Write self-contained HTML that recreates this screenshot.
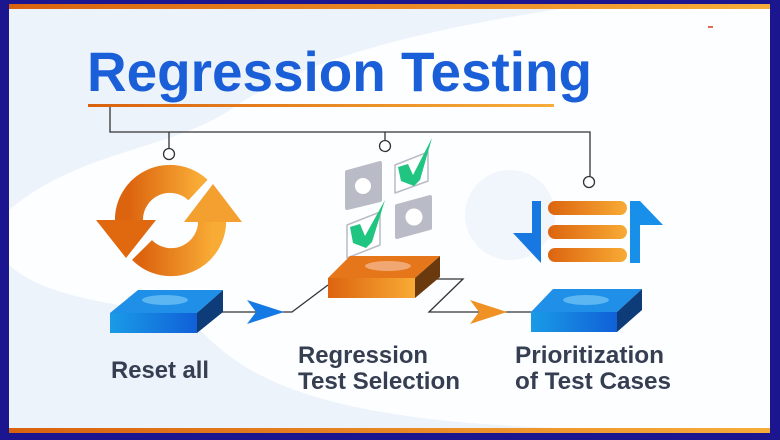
<!DOCTYPE html>
<html><head><meta charset="utf-8"><style>html,body{margin:0;padding:0;width:780px;height:440px;overflow:hidden;background:#1c1590}</style></head><body>
<svg width="780" height="440" viewBox="0 0 780 440" xmlns="http://www.w3.org/2000/svg" font-family="Liberation Sans, sans-serif">
<defs>
<linearGradient id="og" x1="0" x2="1"><stop offset="0" stop-color="#dc640f"/><stop offset="1" stop-color="#f8ab35"/></linearGradient>
<linearGradient id="bg" x1="0" x2="1"><stop offset="0" stop-color="#1a9be6"/><stop offset="1" stop-color="#1060d8"/></linearGradient>
<linearGradient id="stripe" x1="0" x2="1"><stop offset="0" stop-color="#d9620f"/><stop offset="1" stop-color="#f7ad3a"/></linearGradient>
</defs>
<rect x="0" y="0" width="780" height="440" fill="#1c1590"/>
<rect x="9" y="4" width="761" height="429" fill="#fdfeff"/>
<rect x="9" y="4" width="761" height="5" fill="url(#stripe)"/>
<rect x="9" y="428" width="761" height="5" fill="url(#stripe)"/>
<path d="M9,9 L560,9 C420,30 300,60 230,110 C170,150 80,150 9,210 Z" fill="#edf3fb"/>
<path d="M9,265 C60,310 160,300 200,330 C240,370 300,420 560,428 L9,428 Z" fill="#edf3fb"/>
<circle cx="510" cy="215" r="45" fill="#f1f5fc"/>
<rect x="708" y="26" width="5" height="2" fill="#e46a50"/>
<text x="87" y="91" font-size="56" font-weight="bold" fill="#1b5fd8" textLength="505" lengthAdjust="spacingAndGlyphs">Regression Testing</text>
<rect x="88" y="104" width="466" height="3" fill="url(#stripe)"/>
<g fill="none" stroke="#333" stroke-width="1.3">
<path d="M110,107 V132 H590 V176"/>
<path d="M169,132 V148"/><path d="M385,132 V140"/>
<circle cx="169" cy="154" r="5.5" fill="#fff"/>
<circle cx="385" cy="146" r="5.5" fill="#fff"/>
<circle cx="589" cy="182" r="5.5" fill="#fff"/>
<path d="M195,312 H292 L328,285"/>
<path d="M430,279 H463 L429,312 H532"/>
</g>
<g fill="none" stroke="url(#og)" stroke-width="28">
<path d="M198,190 A41,41 0 0 0 129,222"/>
<path d="M142,250 A41,41 0 0 0 212,218"/>
</g>
<polygon points="96,220 156,220 126,258" fill="#e0690f"/>
<polygon points="184,222 242,222 213,184" fill="#f3a030"/>
<polygon points="347,172 380,163 380,200 347,208" fill="#b9bcc6" stroke="#b9bcc6" stroke-width="4" stroke-linejoin="round"/>
<circle cx="363" cy="186" r="8" fill="#fff"/>
<polygon points="397,206 430,197 430,228 397,237" fill="#b9bcc6" stroke="#b9bcc6" stroke-width="4" stroke-linejoin="round"/>
<circle cx="414" cy="217" r="8.5" fill="#fff"/>
<polygon points="395,165 428,152 428,181 395,193" fill="#fff" stroke="#b9bcc6" stroke-width="1.5" stroke-linejoin="round"/>
<polygon points="347,225 380,212 380,245 347,258" fill="#fff" stroke="#b9bcc6" stroke-width="1.5" stroke-linejoin="round"/>
<polygon points="398,167 408,164 413,175 432,138 420,180 414,186 401,181" fill="#1fc580"/>
<polygon points="350,227 360,224 365,236 385,200 372,242 366,248 353,243" fill="#1fc580"/>
<rect x="548" y="201" width="79" height="14" rx="7" fill="url(#og)"/>
<rect x="548" y="225" width="79" height="14" rx="7" fill="url(#og)"/>
<rect x="548" y="248" width="79" height="14" rx="7" fill="url(#og)"/>
<polygon points="532,201 541,201 541,263 513,233 532,233" fill="#1678e0"/>
<polygon points="630,263 640,263 640,225 663,225 640,201 630,201" fill="#1890ea"/>
<polygon points="110,313 138,290 223,290 197,313" fill="#1f8fe8"/>
<ellipse cx="165" cy="300" rx="23" ry="5" fill="#5bb6f2"/>
<rect x="110" y="313" width="87" height="20" fill="url(#bg)"/>
<polygon points="197,313 223,290 223,312 197,333" fill="#0d3c78"/>
<polygon points="328,278 350,256 440,256 415,278" fill="#e5761a"/>
<ellipse cx="388" cy="266" rx="23" ry="5" fill="#f0a772"/>
<rect x="328" y="278" width="87" height="20" fill="url(#og)"/>
<polygon points="415,278 440,256 440,277 415,298" fill="#6a3a0e"/>
<polygon points="531,312 553,289 642,289 617,312" fill="#1f8fe8"/>
<ellipse cx="586" cy="300" rx="23" ry="5" fill="#5bb6f2"/>
<rect x="531" y="312" width="86" height="20" fill="url(#bg)"/>
<polygon points="617,312 642,289 642,310 617,332" fill="#0d3c78"/>
<polygon points="247,300 284,312 247,324 256,312" fill="#1579e3"/>
<polygon points="470,300 507,312 470,324 479,312" fill="#f09125"/>
<g font-size="24" font-weight="bold" fill="#363f52">
<text x="111" y="378" textLength="98" lengthAdjust="spacingAndGlyphs">Reset all</text>
<text x="298" y="363" textLength="130" lengthAdjust="spacingAndGlyphs">Regression</text>
<text x="298" y="389" textLength="162" lengthAdjust="spacingAndGlyphs">Test Selection</text>
<text x="515" y="363" textLength="149" lengthAdjust="spacingAndGlyphs">Prioritization</text>
<text x="515" y="389" textLength="156" lengthAdjust="spacingAndGlyphs">of Test Cases</text>
</g>
</svg>
</body></html>
